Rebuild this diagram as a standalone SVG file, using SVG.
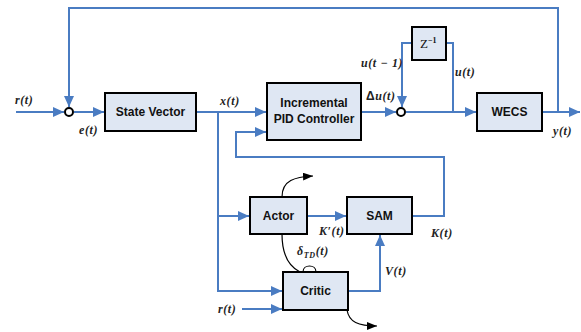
<svg xmlns="http://www.w3.org/2000/svg" width="581" height="332" viewBox="0 0 581 332">
<style>
.box{fill:#dfe7f3;stroke:#000;stroke-width:2}
.bl{font-family:"Liberation Sans",Arial,sans-serif;font-weight:bold;font-size:12px;text-anchor:middle;fill:#111}
.w{fill:none;stroke:#4a7cc2;stroke-width:2}
.lab{font-family:"Liberation Serif","Times New Roman",serif;font-style:italic;font-weight:bold;font-size:12px;letter-spacing:0.6px;fill:#222}
.k{fill:none;stroke:#000;stroke-width:1.2}
</style>
<defs>
<marker id="b" viewBox="0 0 10 10" refX="10" refY="5" markerWidth="11" markerHeight="10" markerUnits="userSpaceOnUse" orient="auto" preserveAspectRatio="none">
<path d="M0,0 L10,5 L0,10 z" fill="#4a7cc2"/>
</marker>
<marker id="k" viewBox="0 0 10 10" refX="10" refY="5" markerWidth="10" markerHeight="8" markerUnits="userSpaceOnUse" orient="auto" preserveAspectRatio="none">
<path d="M0,0 L10,5 L0,10 z" fill="#000"/>
</marker>
</defs>
<g id="connectors">
<path class="w" d="M16,112 H64" marker-end="url(#b)"/>
<path class="w" d="M74,112 H104" marker-end="url(#b)"/>
<path class="w" d="M558,112 V8 H69 V107" marker-end="url(#b)"/>
<path class="w" d="M197,112 H266" marker-end="url(#b)"/>
<path class="w" d="M218,112 V291 H282" marker-end="url(#b)"/>
<path class="w" d="M218,216 H249" marker-end="url(#b)"/>
<path class="w" d="M242,309 H282" marker-end="url(#b)"/>
<path class="w" d="M362,112 H396" marker-end="url(#b)"/>
<path class="w" d="M406,112 H476" marker-end="url(#b)"/>
<path class="w" d="M542,112 H580" marker-end="url(#b)"/>
<path class="w" d="M412,43 H402 V107" marker-end="url(#b)"/>
<path class="w" d="M446,43 H453 V112"/>
<path class="w" d="M307,216 H346" marker-end="url(#b)"/>
<path class="w" d="M348,291 H380 V235" marker-end="url(#b)"/>
<path class="w" d="M412,216 H444 V157 H236 V132 H266" marker-end="url(#b)"/>
<path class="k" d="M282,197 C282,180 295,177 313,176" marker-end="url(#k)"/>
<path class="k" d="M282,234 C282,258 292,268 300,272"/>
<path class="k" d="M303,272 C303,264 316,264 316,272"/>
<path class="k" d="M347,310 C349,322 358,326 377,326" marker-end="url(#k)"/>
<circle cx="69" cy="112" r="4" fill="#fff" stroke="#000" stroke-width="2"/>
<circle cx="401" cy="112" r="4" fill="#fff" stroke="#000" stroke-width="2"/>
</g>
<g id="state-vector"><rect class="box" x="105" y="93" width="91" height="38"/><text class="bl" x="150.5" y="116">State Vector</text></g>
<g id="pid"><rect class="box" x="267" y="83" width="94" height="57"/><text class="bl" x="314" y="107">Incremental</text><text class="bl" x="314" y="123">PID Controller</text></g>
<g id="z"><rect class="box" x="412" y="27" width="34" height="33"/><text x="420" y="48" font-family="Liberation Serif,serif" font-size="13" fill="#111">Z<tspan font-size="8" font-weight="bold" dy="-5">−1</tspan></text></g>
<g id="wecs"><rect class="box" x="477" y="93" width="65" height="38"/><text class="bl" x="509.5" y="116">WECS</text></g>
<g id="actor"><rect class="box" x="250" y="197" width="57" height="37"/><text class="bl" x="278.5" y="220">Actor</text></g>
<g id="sam"><rect class="box" x="347" y="197" width="65" height="37"/><text class="bl" x="379.5" y="220">SAM</text></g>
<g id="critic"><rect class="box" x="283" y="272" width="65" height="38"/><text class="bl" x="315.5" y="295">Critic</text></g>
<g id="labels">
<text class="lab" x="15" y="104">r(t)</text>
<text class="lab" x="79" y="134">e(t)</text>
<text class="lab" x="220" y="105">x(t)</text>
<text class="lab" x="366" y="100" letter-spacing="0"><tspan font-family="Liberation Sans,sans-serif" font-style="normal">Δ</tspan>u(t)</text>
<text class="lab" x="361" y="67" letter-spacing="0.2">u(t − 1)</text>
<text class="lab" x="455" y="76">u(t)</text>
<text class="lab" x="553" y="135">y(t)</text>
<text class="lab" x="319" y="235">K′(t)</text>
<text class="lab" x="431" y="237">K(t)</text>
<text class="lab" x="297" y="255">δ<tspan font-size="8" dy="3">TD</tspan><tspan dy="-3">(t)</tspan></text>
<text class="lab" x="385" y="275">V(t)</text>
<text class="lab" x="218" y="313">r(t)</text>
</g>
</svg>
